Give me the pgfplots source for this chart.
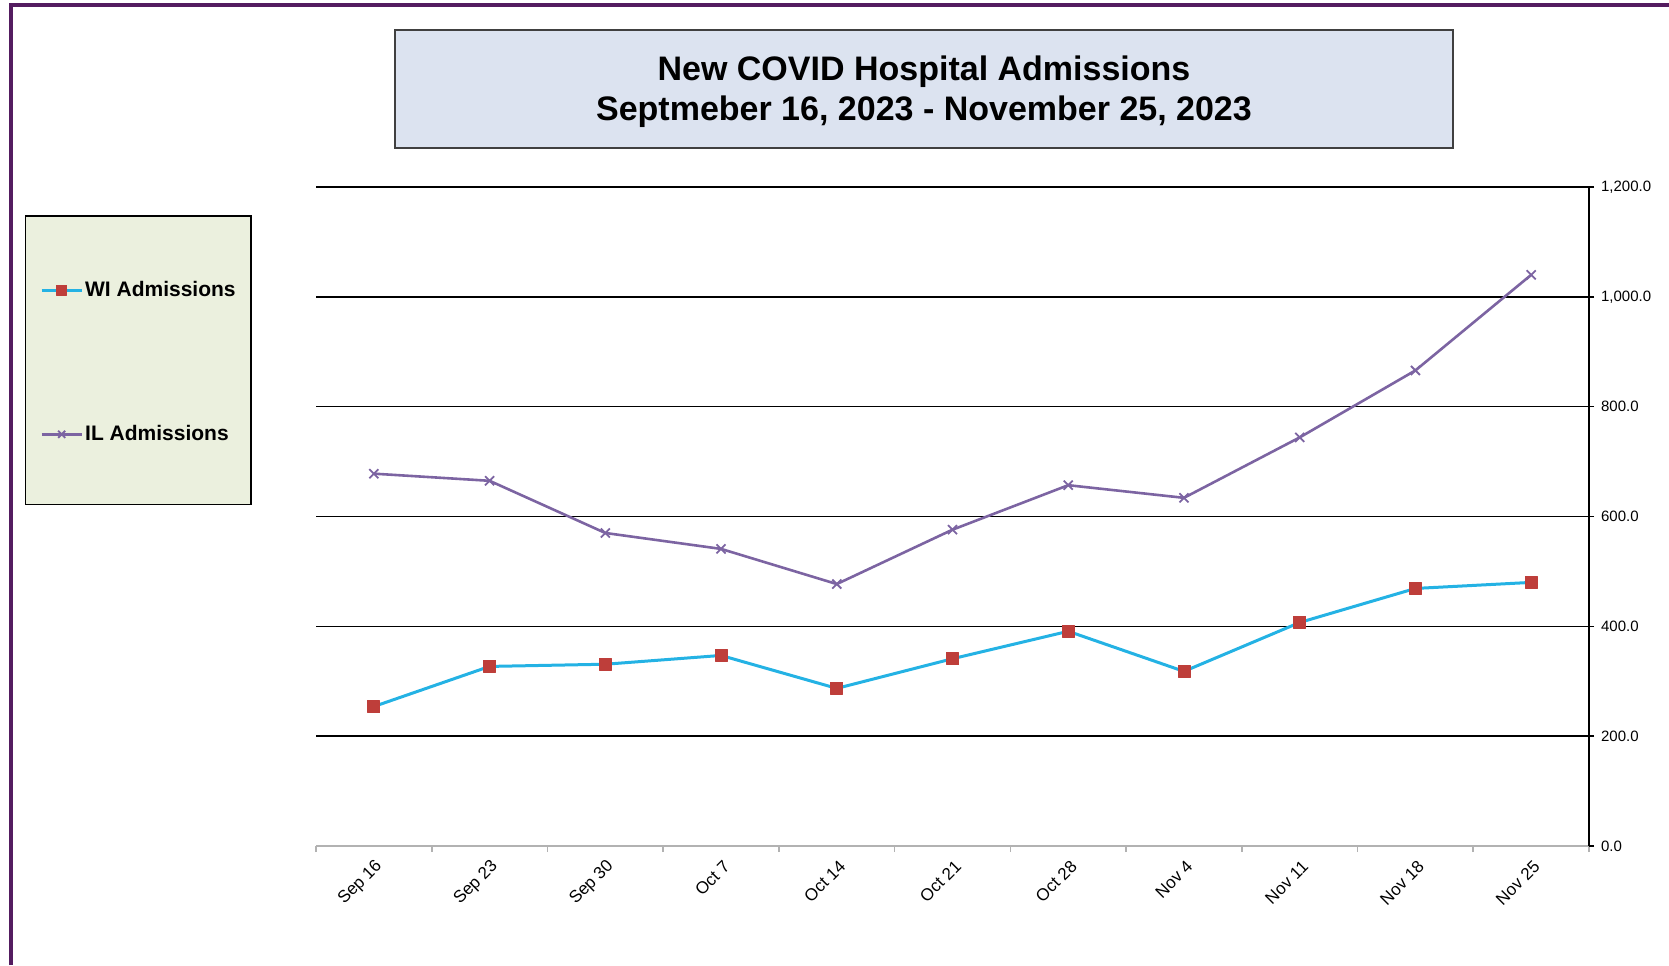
\documentclass[border=0pt]{standalone}
\usepackage{fontspec}
\setmainfont{Liberation Sans}
\usepackage{pgfplots}
\pgfplotsset{compat=1.18}

\definecolor{frameplum}{RGB}{84,28,96}
\definecolor{titlefill}{RGB}{220,227,240}
\definecolor{legfill}{RGB}{235,240,222}
\definecolor{wiblue}{RGB}{36,178,228}
\definecolor{wired}{RGB}{190,62,58}
\definecolor{ilpurple}{RGB}{124,100,162}

\begin{document}
\begin{tikzpicture}
% page: 1669 x 965 px, 1 px = 0.5pt
\path[use as bounding box] (0,0) rectangle (834.5pt,482.5pt);
\draw[frameplum, line width=2pt] (5.5pt,0) -- (5.5pt,480pt) -- (834.5pt,480pt);

% title box
\draw[fill=titlefill, draw=black!75, line width=0.9pt] (197.5pt,467.5pt) rectangle (726.5pt,408.5pt);
\node[font=\bfseries\fontsize{17}{20}\selectfont, align=center] at (462pt,436.5pt)
  {New COVID Hospital Admissions\\Septmeber 16, 2023 - November 25, 2023};

% legend box
\draw[fill=legfill, draw=black, line width=0.8pt] (12.75pt,374.5pt) rectangle (125.5pt,230.25pt);

\begin{axis}[
    at={(158pt,59.5pt)}, anchor=south west,
    scale only axis,
    width=636.5pt, height=329.5pt,
    xmin=-0.5, xmax=10.5,
    ymin=0, ymax=1200,
    axis x line*=bottom,
    axis y line*=right,
    x axis line style={gray!60, line width=0.8pt},
    y axis line style={black, line width=0.9pt},
    xtick={0,...,10},
    xticklabels={Sep 16,Sep 23,Sep 30,Oct 7,Oct 14,Oct 21,Oct 28,Nov 4,Nov 11,Nov 18,Nov 25},
    minor xtick={-0.5,0.5,...,10.5},
    every major x tick/.append style={draw=none},
    every minor x tick/.append style={gray!60, line width=0.8pt},
    minor tick length=3pt,
    major tick length=2.5pt,
    tick align=outside,
    ytick={0,200,...,1200},
    every major y tick/.append style={black, line width=0.8pt},
    ymajorgrids,
    major grid style={black, line width=0.8pt},
    yticklabel style={font=\fontsize{7.5}{9}\selectfont, /pgf/number format/.cd, fixed, fixed zerofill, precision=1, 1000 sep={,}, assume math mode=true},
    xticklabel style={font=\fontsize{8.5}{10}\selectfont, rotate=45, anchor=east, xshift=1pt, yshift=-6.5pt},
    legend style={
        at={(axis description cs:-0.217,0.861)}, anchor=north west,
        draw=none, fill=none, inner sep=0pt,
        row sep=61pt,
        font=\bfseries\fontsize{10.5}{12}\selectfont,
        nodes={inner sep=1pt},
    },
    legend cell align=left,
    legend image code/.code={
        \draw[mark repeat=2, mark phase=2, mark size=2.5pt, #1] plot coordinates {(0pt,0pt) (10pt,0pt) (20pt,0pt)};
    },
]
\addplot[wiblue, line width=1.5pt, line join=round,
    mark=square*, mark size=3pt, mark options={draw=wired, fill=wired, line width=0.4pt}]
coordinates {
(0, 254)
(1, 327)
(2, 331)
(3, 347)
(4, 287)
(5, 341)
(6, 391)
(7, 318)
(8, 407)
(9, 469)
(10, 480)
};
\addlegendentry{WI Admissions}

\addplot[ilpurple, line width=1.3pt, line join=round,
    mark=x, mark size=3.2pt, mark options={ilpurple, line width=0.9pt}]
coordinates {
(0, 678)
(1, 665)
(2, 570)
(3, 541)
(4, 477)
(5, 576)
(6, 657)
(7, 634)
(8, 744)
(9, 866)
(10, 1040)
};
\addlegendentry{IL Admissions}
\end{axis}
\end{tikzpicture}
\end{document}
